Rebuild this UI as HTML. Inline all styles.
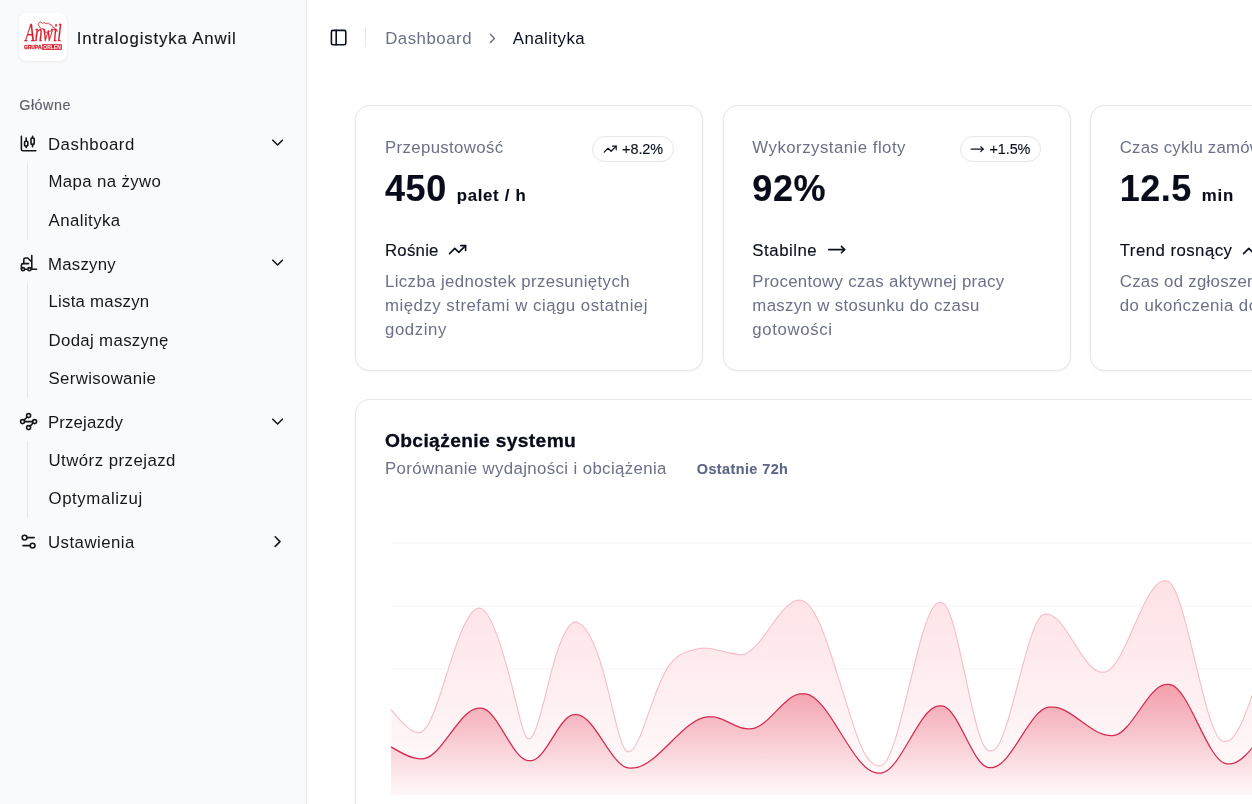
<!DOCTYPE html>
<html lang="pl"><head><meta charset="utf-8"><title>Intralogistyka Anwil – Analityka</title>
<style>
*{box-sizing:border-box;margin:0;padding:0}
html,body{width:1252px;height:804px;overflow:hidden;background:#fff}
body{font-family:"Liberation Sans", "DejaVu Sans", sans-serif;color:#0b1020;position:relative;-webkit-font-smoothing:antialiased}
ul{list-style:none}
a{color:inherit;text-decoration:none}
.t{white-space:nowrap;display:inline-block;position:relative;top:0.058em}
.br,.tr,.bt,.gl{-webkit-text-stroke:0.140px currentColor}.ct{-webkit-text-stroke:0.300px currentColor}.un,.rg{-webkit-text-stroke:0.120px currentColor}.cv{-webkit-text-stroke:0.150px currentColor}
.t.gl{top:-0.200px}.t.cv{top:0.042em}.t.rg{top:-0.200px}
.ic{display:block;flex:none}
.mic{position:relative;top:-0.600px}
.sidebar{position:absolute;left:0;top:0;width:307px;height:804px;background:#f9fafb;border-right:1px solid #e6e6e9;color:#15171d}
.sb-header{position:absolute;left:0;top:0;width:306px;height:76.800px}
.logo{position:absolute;left:19.200px;top:13.200px;width:48px;height:48px;border-radius:7.200px;background:#fff;box-shadow:0 1px 2.500px rgba(15,23,42,.07),0 0 1px rgba(15,23,42,.05);overflow:hidden}
.logo-svg{display:block}
.brand{position:absolute;left:76.800px;top:26.400px;height:24px;line-height:24px;font-size:16.800px;font-weight:500}
.sb-group{position:absolute;left:9.600px;top:86.400px;width:288px}
.sb-label{height:38.400px;line-height:38.400px;padding-left:9.600px;font-size:14.400px;font-weight:500;color:#5c606b}
.menu{display:flex;flex-direction:column;gap:4.800px}
.mbtn{display:flex;align-items:center;height:38.400px;padding:0 9.600px;gap:9.600px;font-size:16.800px;line-height:24px}
.mbtn .chev{margin-left:auto;position:relative;left:-1px;top:-1px}
.sub{margin:0 16.800px 0 17.500px;padding:1.400px 12px 3.400px 10.800px;border-left:1px solid #e6e6e9;display:flex;flex-direction:column;gap:4.800px}
.sbtn{display:flex;align-items:center;height:33.600px;padding:0 9.600px;font-size:16.800px;line-height:24px}
.main{position:absolute;left:307px;top:0;width:1400px;height:804px}
.topbar{position:absolute;left:0;top:0;height:76.800px;width:945px;display:flex;align-items:center}
.trigger{position:absolute;left:14.600px;top:20.900px;width:33.600px;height:33.600px;display:flex;align-items:center;justify-content:center;color:#0b1020}
.vsep{position:absolute;left:58px;top:28.200px;width:1px;height:19.200px;background:#e6e6e9}
.crumbs{position:absolute;left:78.200px;top:26.400px;height:24px;display:flex;align-items:center;gap:12px;font-size:16.800px;line-height:24px;color:#6b7088}
.crumbs .cur{color:#0b1020}
.crumbs .ic{color:#6b7088}
.cards{position:absolute;left:48.200px;top:105.400px;display:flex;gap:19.200px}
.card{border:1px solid #e6e6e9;border-radius:14.400px;background:#fff;box-shadow:0 1px 2px rgba(15,23,42,.05)}
.kpi{width:348.200px;height:265.600px;position:relative;flex:none}
.chead{position:absolute;left:28.800px;top:28px;right:28.800px}
.cdesc{position:relative;top:0.800px;height:24px;line-height:24px;font-size:16.800px;color:#6b7088}
.cval{margin-top:7.200px;height:43.200px;line-height:43.200px;font-size:36px;font-weight:700;white-space:nowrap;color:#070b1a}
.cval .unit{font-size:16.800px;font-weight:700;margin-left:0}
.badge{position:absolute;right:0;top:1.600px;height:25.600px;border:1px solid #e6e6e9;border-radius:13px;padding:0 9.600px;display:flex;align-items:center;gap:4.800px;font-size:14.400px;font-weight:500;line-height:19.200px;color:#0b1020}
.cfoot{position:absolute;left:28.800px;top:131.400px;right:20px}
.trend{display:flex;align-items:center;gap:9.600px;height:24px;line-height:24px;font-size:16.800px;font-weight:500}
.fdesc{margin-top:7.200px;font-size:16.800px;line-height:24px;color:#6b7088}
.chartcard{position:absolute;left:48.200px;top:399.400px;width:1083px;height:520px}
.ctitle{position:absolute;left:28.800px;top:27px;height:24px;line-height:24px;font-size:19.200px;font-weight:700;color:#070b1a}
.csub{position:absolute;left:28.800px;top:55.400px;height:24px;line-height:24px;font-size:16.800px;color:#6b7088;display:flex;align-items:center}
.csub .rng{margin-left:30px;font-size:14.400px;font-weight:700;color:#5b6784;position:relative;top:1.300px}
.chart-svg{position:absolute;left:-1px;top:-1px}
</style></head>
<body>
<aside class="sidebar">
<div class="sb-header"><div class="logo"><svg class="logo-svg" width="48" height="48" viewBox="0 0 48 48">
<g fill="#d71f2b" stroke="#d71f2b" stroke-width="0.300">
<text x="6.200" y="27.800" font-family="'Liberation Serif', 'DejaVu Serif', serif" font-style="italic" font-weight="400" font-size="24.200" textLength="36.400" lengthAdjust="spacingAndGlyphs">Anwil</text>
<text x="4.900" y="36" font-family="'Liberation Sans', sans-serif" font-weight="700" font-size="5" textLength="17.600" lengthAdjust="spacingAndGlyphs">GRUPA</text>
<rect x="23.300" y="31.300" width="19.500" height="5.500"/>
</g>
<text x="24.300" y="35.800" fill="#fff" font-family="'Liberation Sans', sans-serif" font-weight="700" font-size="4.800" textLength="17.500" lengthAdjust="spacingAndGlyphs">ORLEN</text>
<path d="M19.500 9.200c1-1.800 2.800-1.300 3.600-.2 1.200-.9 2.600-.6 3.300.5 1.300-1 3-.6 3.500.8 1.500-.2 2.600.9 2.400 2.300 1.700.3 3.300 1.500 4.300 3.600-1.500-1.300-3-1.800-4.600-1.500-.6 1.300-2 1.900-3.300 1.300-1 1.300-2.800 1.400-3.900.2.300-1.300-.5-2.200-1.700-2.300-1.500-.1-2.700-.9-2.600-2.300-1.200-.4-1.600-1.500-1-2.400z" fill="none" stroke="#d71f2b" stroke-width="0.800" stroke-linejoin="round" transform="translate(-2.200,0.200) scale(1.110,1.120)"/>
</svg></div><div class="brand"><span class="t br" style="letter-spacing:0.859px">Intralogistyka Anwil</span></div></div>
<nav class="sb-group"><div class="sb-label"><span class="t gl" style="letter-spacing:0.497px">Główne</span></div>
<ul class="menu">
<li class="mi"><a class="mbtn"><svg class="ic mic" width="19.2" height="19.2" viewBox="0 0 24 24" fill="none" stroke="currentColor" stroke-width="2" stroke-linecap="round" stroke-linejoin="round"><path d="M9 5v4"/><rect width="4" height="6" x="7" y="9" rx="1"/><path d="M9 15v2"/><path d="M17 3v2"/><rect width="4" height="8" x="15" y="5" rx="1"/><path d="M17 13v3"/><path d="M3 3v16a2 2 0 0 0 2 2h16"/></svg><span class="t ml" style="letter-spacing:0.531px">Dashboard</span><svg class="ic chev" width="19.2" height="19.2" viewBox="0 0 24 24" fill="none" stroke="currentColor" stroke-width="2" stroke-linecap="round" stroke-linejoin="round"><path d="m6 9 6 6 6-6"/></svg></a><ul class="sub"><li><a class="sbtn"><span class="t sl" style="letter-spacing:0.372px">Mapa na żywo</span></a></li><li><a class="sbtn"><span class="t sl" style="letter-spacing:0.453px">Analityka</span></a></li></ul></li>
<li class="mi"><a class="mbtn"><svg class="ic mic" width="19.2" height="19.2" viewBox="0 0 24 24" fill="none" stroke="currentColor" stroke-width="2" stroke-linecap="round" stroke-linejoin="round"><path d="M12 12H5a2 2 0 0 0-2 2v5"/><circle cx="13" cy="19" r="2"/><circle cx="5" cy="19" r="2"/><path d="M8 19h3m5-17v17h6M6 12V7c0-1.1.9-2 2-2h3l5 5"/></svg><span class="t ml" style="letter-spacing:0.263px">Maszyny</span><svg class="ic chev" width="19.2" height="19.2" viewBox="0 0 24 24" fill="none" stroke="currentColor" stroke-width="2" stroke-linecap="round" stroke-linejoin="round"><path d="m6 9 6 6 6-6"/></svg></a><ul class="sub"><li><a class="sbtn"><span class="t sl" style="letter-spacing:0.253px">Lista maszyn</span></a></li><li><a class="sbtn"><span class="t sl" style="letter-spacing:0.353px">Dodaj maszynę</span></a></li><li><a class="sbtn"><span class="t sl" style="letter-spacing:0.353px">Serwisowanie</span></a></li></ul></li>
<li class="mi"><a class="mbtn"><svg class="ic mic" width="19.2" height="19.2" viewBox="0 0 24 24" fill="none" stroke="currentColor" stroke-width="2" stroke-linecap="round" stroke-linejoin="round"><circle cx="12" cy="4.5" r="2.5"/><path d="m10.2 6.3-3.9 3.9"/><circle cx="4.5" cy="12" r="2.5"/><path d="M7 12h10"/><circle cx="19.5" cy="12" r="2.5"/><path d="m13.8 17.7 3.9-3.9"/><circle cx="12" cy="19.5" r="2.5"/></svg><span class="t ml" style="letter-spacing:0.141px">Przejazdy</span><svg class="ic chev" width="19.2" height="19.2" viewBox="0 0 24 24" fill="none" stroke="currentColor" stroke-width="2" stroke-linecap="round" stroke-linejoin="round"><path d="m6 9 6 6 6-6"/></svg></a><ul class="sub"><li><a class="sbtn"><span class="t sl" style="letter-spacing:0.473px">Utwórz przejazd</span></a></li><li><a class="sbtn"><span class="t sl" style="letter-spacing:0.612px">Optymalizuj</span></a></li></ul></li>
<li class="mi"><a class="mbtn"><svg class="ic mic" width="19.2" height="19.2" viewBox="0 0 24 24" fill="none" stroke="currentColor" stroke-width="2" stroke-linecap="round" stroke-linejoin="round"><path d="M14 17H5"/><path d="M19 7h-9"/><circle cx="17" cy="17" r="3"/><circle cx="7" cy="7" r="3"/></svg><span class="t ml" style="letter-spacing:0.480px">Ustawienia</span><svg class="ic chev" width="19.2" height="19.2" viewBox="0 0 24 24" fill="none" stroke="currentColor" stroke-width="2" stroke-linecap="round" stroke-linejoin="round"><path d="m9 18 6-6-6-6"/></svg></a></li>
</ul></nav>
</aside>
<div class="main">
<header class="topbar"><div class="trigger"><svg class="ic " width="19.2" height="19.2" viewBox="0 0 24 24" fill="none" stroke="currentColor" stroke-width="2" stroke-linecap="round" stroke-linejoin="round"><rect width="18" height="18" x="3" y="3" rx="2"/><path d="M9 3v18"/></svg></div><div class="vsep"></div>
<nav class="crumbs"><span class="t bc" style="letter-spacing:0.531px">Dashboard</span><svg class="ic " width="16.8" height="16.8" viewBox="0 0 24 24" fill="none" stroke="currentColor" stroke-width="2" stroke-linecap="round" stroke-linejoin="round"><path d="m9 18 6-6-6-6"/></svg><span class="t bc cur" style="letter-spacing:0.453px">Analityka</span></nav></header>
<main>
<div class="cards">
<section class="card kpi">
<div class="chead"><div class="cdesc"><span class="t cd" style="letter-spacing:0.361px">Przepustowość</span></div><div class="cval"><span class="t cv" style="letter-spacing:0.568px">450</span> <span class="unit"><span class="t un" style="letter-spacing:0.684px">palet / h</span></span></div>
<div class="badge"><svg class="ic bic" width="14.4" height="14.4" viewBox="0 0 24 24" fill="none" stroke="currentColor" stroke-width="2" stroke-linecap="round" stroke-linejoin="round"><path d="M16 7h6v6"/><path d="m22 7-8.500 8.500-5-5L2 17"/></svg><span class="t bt" style="letter-spacing:-0.069px">+8.2%</span></div></div>
<div class="cfoot"><div class="trend"><span class="t tr" style="letter-spacing:0.242px">Rośnie</span><svg class="ic tic" width="19.2" height="19.2" viewBox="0 0 24 24" fill="none" stroke="currentColor" stroke-width="2" stroke-linecap="round" stroke-linejoin="round"><path d="M16 7h6v6"/><path d="m22 7-8.500 8.500-5-5L2 17"/></svg></div>
<div class="fdesc"><span class="t fd" style="letter-spacing:0.390px">Liczba jednostek przesuniętych</span><br><span class="t fd" style="letter-spacing:0.507px">między strefami w ciągu ostatniej</span><br><span class="t fd" style="letter-spacing:0.587px">godziny</span></div></div>
</section>
<section class="card kpi">
<div class="chead"><div class="cdesc"><span class="t cd" style="letter-spacing:0.483px">Wykorzystanie floty</span></div><div class="cval"><span class="t cv" style="letter-spacing:0.531px">92%</span></div>
<div class="badge"><svg class="ic bic" width="14.4" height="14.4" viewBox="0 0 24 24" fill="none" stroke="currentColor" stroke-width="2" stroke-linecap="round" stroke-linejoin="round"><path d="M18 8L22 12L18 16"/><path d="M2 12H22"/></svg><span class="t bt" style="letter-spacing:-0.069px">+1.5%</span></div></div>
<div class="cfoot"><div class="trend"><span class="t tr" style="letter-spacing:0.529px">Stabilne</span><svg class="ic tic" width="19.2" height="19.2" viewBox="0 0 24 24" fill="none" stroke="currentColor" stroke-width="2" stroke-linecap="round" stroke-linejoin="round"><path d="M18 8L22 12L18 16"/><path d="M2 12H22"/></svg></div>
<div class="fdesc"><span class="t fd" style="letter-spacing:0.323px">Procentowy czas aktywnej pracy</span><br><span class="t fd" style="letter-spacing:0.344px">maszyn w stosunku do czasu</span><br><span class="t fd" style="letter-spacing:0.611px">gotowości</span></div></div>
</section>
<section class="card kpi">
<div class="chead"><div class="cdesc"><span class="t cd" style="letter-spacing:0.212px">Czas cyklu zamówienia</span></div><div class="cval"><span class="t cv" style="letter-spacing:0.457px">12.5</span> <span class="unit"><span class="t un" style="letter-spacing:0.818px">min</span></span></div>
<div class="badge"><svg class="ic bic" width="14.4" height="14.4" viewBox="0 0 24 24" fill="none" stroke="currentColor" stroke-width="2" stroke-linecap="round" stroke-linejoin="round"><path d="M16 7h6v6"/><path d="m22 7-8.500 8.500-5-5L2 17"/></svg><span class="t bt" style="letter-spacing:-0.069px">+0.8%</span></div></div>
<div class="cfoot"><div class="trend"><span class="t tr" style="letter-spacing:0.464px">Trend rosnący</span><svg class="ic tic" width="19.2" height="19.2" viewBox="0 0 24 24" fill="none" stroke="currentColor" stroke-width="2" stroke-linecap="round" stroke-linejoin="round"><path d="M16 7h6v6"/><path d="m22 7-8.500 8.500-5-5L2 17"/></svg></div>
<div class="fdesc"><span class="t fd" style="letter-spacing:0.283px">Czas od zgłoszenia zapotrzebowania</span><br><span class="t fd" style="letter-spacing:0.445px">do ukończenia dostawy na linię</span></div></div>
</section>
</div>
<section class="card chartcard"><svg class="chart-svg" width="1083" height="520" viewBox="0 0 1083 520">
<defs>
<linearGradient id="fillLoad" x1="0" y1="0" x2="0" y2="1"><stop offset="5%" stop-color="#fb7185" stop-opacity="0.200"/><stop offset="95%" stop-color="#fb7185" stop-opacity="0.030"/></linearGradient>
<linearGradient id="fillThr" x1="0" y1="0" x2="0" y2="1"><stop offset="5%" stop-color="#e2304a" stop-opacity="0.400"/><stop offset="95%" stop-color="#e2304a" stop-opacity="0.030"/></linearGradient>
</defs>
<g stroke="#f2f3f6" stroke-width="1"><line x1="36.05" x2="1083" y1="144.10" y2="144.10"/><line x1="36.05" x2="1083" y1="207.10" y2="207.10"/><line x1="36.05" x2="1083" y1="270.10" y2="270.10"/></g>
<path d="M36.05,310.60C44.22,320.50 52.38,330.40 60.55,333.03C61.55,333.35 62.55,333.56 63.55,333.60C64.55,333.64 65.55,333.50 66.55,333.03C75.55,328.79 84.55,297.65 93.55,269.35C102.72,240.52 111.88,214.64 121.05,209.89C122.05,209.37 123.05,209.10 124.05,209.10C125.05,209.10 126.05,209.35 127.05,209.89C135.47,214.40 143.88,238.65 152.30,269.35C155.22,279.99 158.13,291.40 161.05,303.60C164.38,317.54 167.72,332.50 171.05,337.67C172.05,339.23 173.05,339.90 174.05,339.85C175.05,339.80 176.05,339.03 177.05,337.67C180.88,332.47 184.72,318.64 188.55,303.60C191.47,292.16 194.38,280.02 197.30,269.35C204.05,244.66 210.80,227.82 217.55,223.94C218.55,223.37 219.55,223.08 220.55,223.10C221.55,223.12 222.55,223.45 223.55,223.94C231.47,227.86 239.38,242.08 247.30,269.35C250.22,279.40 253.13,291.22 256.05,303.60C260.88,324.12 265.72,346.19 270.55,351.45C271.55,352.54 272.55,352.91 273.55,352.85C274.55,352.79 275.55,352.30 276.55,351.45C283.47,345.62 290.38,322.91 297.30,303.60C302.30,289.64 307.30,277.46 312.30,269.35C320.80,255.56 329.30,253.53 337.80,251.10C340.55,250.31 343.30,249.49 346.05,249.22C347.05,249.12 348.05,249.09 349.05,249.10C350.05,249.11 351.05,249.14 352.05,249.22C362.13,249.95 372.22,254.28 382.30,255.39C383.30,255.50 384.30,255.58 385.30,255.60C386.30,255.62 387.30,255.58 388.30,255.39C396.47,253.90 404.63,243.04 412.80,231.60C422.22,218.41 431.63,204.44 441.05,201.59C442.05,201.28 443.05,201.11 444.05,201.10C445.05,201.09 446.05,201.26 447.05,201.59C452.30,203.32 457.55,209.63 462.80,220.60C467.80,231.05 472.80,245.73 477.80,261.10C482.80,276.47 487.80,292.51 492.80,308.60C497.80,324.69 502.80,340.81 507.80,351.10C512.22,360.19 516.63,364.74 521.05,366.27C522.05,366.62 523.05,366.81 524.05,366.85C525.05,366.89 526.05,366.78 527.05,366.27C545.47,356.90 563.88,212.90 582.30,204.18C583.30,203.70 584.30,203.63 585.30,203.60C586.30,203.57 587.30,203.60 588.30,204.18C603.05,212.73 617.80,342.71 632.55,351.27C633.55,351.85 634.55,351.87 635.55,351.85C636.55,351.83 637.55,351.75 638.55,351.27C655.13,343.27 671.72,222.15 688.30,215.45C689.30,215.05 690.30,215.06 691.30,215.10C692.30,215.14 693.30,215.21 694.30,215.45C711.05,219.41 727.80,269.57 744.55,272.87C745.55,273.06 746.55,273.09 747.55,273.10C748.55,273.11 749.55,273.09 750.55,272.87C769.38,268.54 788.22,187.51 807.05,182.23C808.05,181.95 809.05,181.88 810.05,181.85C811.05,181.82 812.05,181.81 813.05,182.23C831.05,189.79 849.05,334.18 867.05,341.94C868.05,342.37 869.05,342.38 870.05,342.35C871.05,342.32 872.05,342.26 873.05,341.94C892.63,335.53 912.22,227.12 931.80,220.94C932.80,220.63 933.80,220.58 934.80,220.60C935.80,220.62 936.80,220.71 937.80,220.94C953.47,224.57 969.13,262.58 984.80,300.60L984.80,396.10L36.05,396.10Z" fill="#fff"/>
<path d="M36.05,310.60C44.22,320.50 52.38,330.40 60.55,333.03C61.55,333.35 62.55,333.56 63.55,333.60C64.55,333.64 65.55,333.50 66.55,333.03C75.55,328.79 84.55,297.65 93.55,269.35C102.72,240.52 111.88,214.64 121.05,209.89C122.05,209.37 123.05,209.10 124.05,209.10C125.05,209.10 126.05,209.35 127.05,209.89C135.47,214.40 143.88,238.65 152.30,269.35C155.22,279.99 158.13,291.40 161.05,303.60C164.38,317.54 167.72,332.50 171.05,337.67C172.05,339.23 173.05,339.90 174.05,339.85C175.05,339.80 176.05,339.03 177.05,337.67C180.88,332.47 184.72,318.64 188.55,303.60C191.47,292.16 194.38,280.02 197.30,269.35C204.05,244.66 210.80,227.82 217.55,223.94C218.55,223.37 219.55,223.08 220.55,223.10C221.55,223.12 222.55,223.45 223.55,223.94C231.47,227.86 239.38,242.08 247.30,269.35C250.22,279.40 253.13,291.22 256.05,303.60C260.88,324.12 265.72,346.19 270.55,351.45C271.55,352.54 272.55,352.91 273.55,352.85C274.55,352.79 275.55,352.30 276.55,351.45C283.47,345.62 290.38,322.91 297.30,303.60C302.30,289.64 307.30,277.46 312.30,269.35C320.80,255.56 329.30,253.53 337.80,251.10C340.55,250.31 343.30,249.49 346.05,249.22C347.05,249.12 348.05,249.09 349.05,249.10C350.05,249.11 351.05,249.14 352.05,249.22C362.13,249.95 372.22,254.28 382.30,255.39C383.30,255.50 384.30,255.58 385.30,255.60C386.30,255.62 387.30,255.58 388.30,255.39C396.47,253.90 404.63,243.04 412.80,231.60C422.22,218.41 431.63,204.44 441.05,201.59C442.05,201.28 443.05,201.11 444.05,201.10C445.05,201.09 446.05,201.26 447.05,201.59C452.30,203.32 457.55,209.63 462.80,220.60C467.80,231.05 472.80,245.73 477.80,261.10C482.80,276.47 487.80,292.51 492.80,308.60C497.80,324.69 502.80,340.81 507.80,351.10C512.22,360.19 516.63,364.74 521.05,366.27C522.05,366.62 523.05,366.81 524.05,366.85C525.05,366.89 526.05,366.78 527.05,366.27C545.47,356.90 563.88,212.90 582.30,204.18C583.30,203.70 584.30,203.63 585.30,203.60C586.30,203.57 587.30,203.60 588.30,204.18C603.05,212.73 617.80,342.71 632.55,351.27C633.55,351.85 634.55,351.87 635.55,351.85C636.55,351.83 637.55,351.75 638.55,351.27C655.13,343.27 671.72,222.15 688.30,215.45C689.30,215.05 690.30,215.06 691.30,215.10C692.30,215.14 693.30,215.21 694.30,215.45C711.05,219.41 727.80,269.57 744.55,272.87C745.55,273.06 746.55,273.09 747.55,273.10C748.55,273.11 749.55,273.09 750.55,272.87C769.38,268.54 788.22,187.51 807.05,182.23C808.05,181.95 809.05,181.88 810.05,181.85C811.05,181.82 812.05,181.81 813.05,182.23C831.05,189.79 849.05,334.18 867.05,341.94C868.05,342.37 869.05,342.38 870.05,342.35C871.05,342.32 872.05,342.26 873.05,341.94C892.63,335.53 912.22,227.12 931.80,220.94C932.80,220.63 933.80,220.58 934.80,220.60C935.80,220.62 936.80,220.71 937.80,220.94C953.47,224.57 969.13,262.58 984.80,300.60L984.80,396.10L36.05,396.10Z" fill="url(#fillLoad)"/>
<path d="M36.05,310.60C44.22,320.50 52.38,330.40 60.55,333.03C61.55,333.35 62.55,333.56 63.55,333.60C64.55,333.64 65.55,333.50 66.55,333.03C75.55,328.79 84.55,297.65 93.55,269.35C102.72,240.52 111.88,214.64 121.05,209.89C122.05,209.37 123.05,209.10 124.05,209.10C125.05,209.10 126.05,209.35 127.05,209.89C135.47,214.40 143.88,238.65 152.30,269.35C155.22,279.99 158.13,291.40 161.05,303.60C164.38,317.54 167.72,332.50 171.05,337.67C172.05,339.23 173.05,339.90 174.05,339.85C175.05,339.80 176.05,339.03 177.05,337.67C180.88,332.47 184.72,318.64 188.55,303.60C191.47,292.16 194.38,280.02 197.30,269.35C204.05,244.66 210.80,227.82 217.55,223.94C218.55,223.37 219.55,223.08 220.55,223.10C221.55,223.12 222.55,223.45 223.55,223.94C231.47,227.86 239.38,242.08 247.30,269.35C250.22,279.40 253.13,291.22 256.05,303.60C260.88,324.12 265.72,346.19 270.55,351.45C271.55,352.54 272.55,352.91 273.55,352.85C274.55,352.79 275.55,352.30 276.55,351.45C283.47,345.62 290.38,322.91 297.30,303.60C302.30,289.64 307.30,277.46 312.30,269.35C320.80,255.56 329.30,253.53 337.80,251.10C340.55,250.31 343.30,249.49 346.05,249.22C347.05,249.12 348.05,249.09 349.05,249.10C350.05,249.11 351.05,249.14 352.05,249.22C362.13,249.95 372.22,254.28 382.30,255.39C383.30,255.50 384.30,255.58 385.30,255.60C386.30,255.62 387.30,255.58 388.30,255.39C396.47,253.90 404.63,243.04 412.80,231.60C422.22,218.41 431.63,204.44 441.05,201.59C442.05,201.28 443.05,201.11 444.05,201.10C445.05,201.09 446.05,201.26 447.05,201.59C452.30,203.32 457.55,209.63 462.80,220.60C467.80,231.05 472.80,245.73 477.80,261.10C482.80,276.47 487.80,292.51 492.80,308.60C497.80,324.69 502.80,340.81 507.80,351.10C512.22,360.19 516.63,364.74 521.05,366.27C522.05,366.62 523.05,366.81 524.05,366.85C525.05,366.89 526.05,366.78 527.05,366.27C545.47,356.90 563.88,212.90 582.30,204.18C583.30,203.70 584.30,203.63 585.30,203.60C586.30,203.57 587.30,203.60 588.30,204.18C603.05,212.73 617.80,342.71 632.55,351.27C633.55,351.85 634.55,351.87 635.55,351.85C636.55,351.83 637.55,351.75 638.55,351.27C655.13,343.27 671.72,222.15 688.30,215.45C689.30,215.05 690.30,215.06 691.30,215.10C692.30,215.14 693.30,215.21 694.30,215.45C711.05,219.41 727.80,269.57 744.55,272.87C745.55,273.06 746.55,273.09 747.55,273.10C748.55,273.11 749.55,273.09 750.55,272.87C769.38,268.54 788.22,187.51 807.05,182.23C808.05,181.95 809.05,181.88 810.05,181.85C811.05,181.82 812.05,181.81 813.05,182.23C831.05,189.79 849.05,334.18 867.05,341.94C868.05,342.37 869.05,342.38 870.05,342.35C871.05,342.32 872.05,342.26 873.05,341.94C892.63,335.53 912.22,227.12 931.80,220.94C932.80,220.63 933.80,220.58 934.80,220.60C935.80,220.62 936.80,220.71 937.80,220.94C953.47,224.57 969.13,262.58 984.80,300.60" fill="none" stroke="#f8bcc6" stroke-width="1.100"/>
<path d="M36.05,347.85C45.05,353.32 54.05,358.79 63.05,359.69C64.05,359.79 65.05,359.84 66.05,359.85C67.05,359.86 68.05,359.85 69.05,359.69C86.63,356.99 104.22,312.17 121.80,309.30C122.80,309.14 123.80,309.11 124.80,309.10C125.80,309.09 126.80,309.10 127.80,309.30C142.47,312.31 157.13,358.15 171.80,361.36C172.80,361.58 173.80,361.60 174.80,361.60C175.80,361.60 176.80,361.58 177.80,361.36C191.05,358.36 204.30,318.73 217.55,315.82C218.55,315.60 219.55,315.59 220.55,315.60C221.55,315.61 222.55,315.63 223.55,315.82C240.05,318.92 256.55,366.29 273.05,368.96C274.05,369.12 275.05,369.12 276.05,369.10C277.05,369.08 278.05,369.06 279.05,368.96C303.47,366.48 327.88,319.96 352.30,317.94C353.30,317.86 354.30,317.85 355.30,317.85C356.30,317.85 357.30,317.86 358.30,317.94C369.22,318.85 380.13,328.75 391.05,329.74C392.05,329.83 393.05,329.84 394.05,329.85C395.05,329.86 396.05,329.85 397.05,329.74C412.97,327.87 428.88,297.04 444.80,294.99C445.80,294.87 446.80,294.85 447.80,294.85C448.80,294.85 449.80,294.86 450.80,294.99C474.22,298.19 497.63,370.46 521.05,373.92C522.05,374.07 523.05,374.09 524.05,374.10C525.05,374.11 526.05,374.10 527.05,373.92C545.47,370.68 563.88,310.71 582.30,307.09C583.30,306.89 584.30,306.86 585.30,306.85C586.30,306.84 587.30,306.85 588.30,307.09C603.05,310.65 617.80,364.86 632.55,368.37C633.55,368.61 634.55,368.61 635.55,368.60C636.55,368.59 637.55,368.55 638.55,368.37C656.80,365.01 675.05,311.01 693.30,308.24C694.30,308.08 695.30,308.09 696.30,308.10C697.30,308.11 698.30,308.14 699.30,308.24C717.30,309.98 735.30,334.73 753.30,336.46C754.30,336.56 755.30,336.59 756.30,336.60C757.30,336.61 758.30,336.62 759.30,336.46C776.05,333.93 792.80,288.52 809.55,285.56C810.55,285.38 811.55,285.36 812.55,285.35C813.55,285.34 814.55,285.35 815.55,285.56C833.97,289.41 852.38,360.91 870.80,364.66C871.80,364.86 872.80,364.86 873.80,364.85C874.80,364.84 875.80,364.81 876.80,364.66C895.13,361.89 913.47,318.37 931.80,315.75C932.80,315.61 933.80,315.59 934.80,315.60C935.80,315.61 936.80,315.65 937.80,315.75C953.47,317.35 969.13,333.98 984.80,350.60L984.80,396.10L36.05,396.10Z" fill="url(#fillThr)"/>
<path d="M36.05,347.85C45.05,353.32 54.05,358.79 63.05,359.69C64.05,359.79 65.05,359.84 66.05,359.85C67.05,359.86 68.05,359.85 69.05,359.69C86.63,356.99 104.22,312.17 121.80,309.30C122.80,309.14 123.80,309.11 124.80,309.10C125.80,309.09 126.80,309.10 127.80,309.30C142.47,312.31 157.13,358.15 171.80,361.36C172.80,361.58 173.80,361.60 174.80,361.60C175.80,361.60 176.80,361.58 177.80,361.36C191.05,358.36 204.30,318.73 217.55,315.82C218.55,315.60 219.55,315.59 220.55,315.60C221.55,315.61 222.55,315.63 223.55,315.82C240.05,318.92 256.55,366.29 273.05,368.96C274.05,369.12 275.05,369.12 276.05,369.10C277.05,369.08 278.05,369.06 279.05,368.96C303.47,366.48 327.88,319.96 352.30,317.94C353.30,317.86 354.30,317.85 355.30,317.85C356.30,317.85 357.30,317.86 358.30,317.94C369.22,318.85 380.13,328.75 391.05,329.74C392.05,329.83 393.05,329.84 394.05,329.85C395.05,329.86 396.05,329.85 397.05,329.74C412.97,327.87 428.88,297.04 444.80,294.99C445.80,294.87 446.80,294.85 447.80,294.85C448.80,294.85 449.80,294.86 450.80,294.99C474.22,298.19 497.63,370.46 521.05,373.92C522.05,374.07 523.05,374.09 524.05,374.10C525.05,374.11 526.05,374.10 527.05,373.92C545.47,370.68 563.88,310.71 582.30,307.09C583.30,306.89 584.30,306.86 585.30,306.85C586.30,306.84 587.30,306.85 588.30,307.09C603.05,310.65 617.80,364.86 632.55,368.37C633.55,368.61 634.55,368.61 635.55,368.60C636.55,368.59 637.55,368.55 638.55,368.37C656.80,365.01 675.05,311.01 693.30,308.24C694.30,308.08 695.30,308.09 696.30,308.10C697.30,308.11 698.30,308.14 699.30,308.24C717.30,309.98 735.30,334.73 753.30,336.46C754.30,336.56 755.30,336.59 756.30,336.60C757.30,336.61 758.30,336.62 759.30,336.46C776.05,333.93 792.80,288.52 809.55,285.56C810.55,285.38 811.55,285.36 812.55,285.35C813.55,285.34 814.55,285.35 815.55,285.56C833.97,289.41 852.38,360.91 870.80,364.66C871.80,364.86 872.80,364.86 873.80,364.85C874.80,364.84 875.80,364.81 876.80,364.66C895.13,361.89 913.47,318.37 931.80,315.75C932.80,315.61 933.80,315.59 934.80,315.60C935.80,315.61 936.80,315.65 937.80,315.75C953.47,317.35 969.13,333.98 984.80,350.60" fill="none" stroke="#d62b50" stroke-width="1.250"/>
</svg>
<div class="ctitle"><span class="t ct" style="letter-spacing:0.372px">Obciążenie systemu</span></div>
<div class="csub"><span class="t cs" style="letter-spacing:0.386px">Porównanie wydajności i obciążenia</span><span class="rng"><span class="t rg" style="letter-spacing:0.430px">Ostatnie 72h</span></span></div>
</section>
</main>
</div>
</body></html>
